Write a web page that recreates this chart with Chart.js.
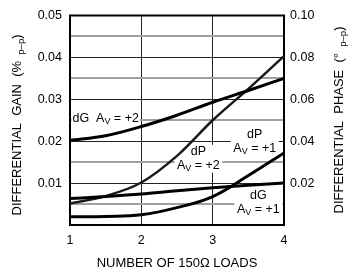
<!DOCTYPE html>
<html>
<head>
<meta charset="utf-8">
<script src="https://cdn.jsdelivr.net/npm/chart.js@4/dist/chart.umd.min.js"></script>
<style>
  html, body { margin: 0; padding: 0; background: #fff; }
  canvas { display: block; }
</style>
</head>
<body>
<canvas id="grafico" width="350" height="276"></canvas>
<script>
// dados
const loads = [1, 1.5, 2, 2.5, 3, 3.5, 4];
const dgAv2 = [0.0202, 0.0213, 0.0235, 0.0262, 0.0293, 0.0321, 0.0350]; // eixo esquerdo (%)
const dgAv1 = [0.0063, 0.0068, 0.0074, 0.0082, 0.0089, 0.0095, 0.0100]; // eixo esquerdo (%)
const dpAv2 = [0.0102, 0.0138, 0.0203, 0.0330, 0.0500, 0.0650, 0.0806]; // eixo direito (graus)
const dpAv1 = [0.0039, 0.0041, 0.0049, 0.0083, 0.0136, 0.0236, 0.0344]; // eixo direito (graus)

const xTicks = [1, 2, 3, 4];
const gainTicks = ['0.01', '0.02', '0.03', '0.04', '0.05'];
const phaseTicks = ['0.02', '0.04', '0.06', '0.08', '0.10'];

const FONTE = '"Liberation Sans", Arial, sans-serif';

function pontos(valores) {
  return loads.map((x, i) => ({ x: x, y: valores[i] }));
}

function serie(valores, eixo, largura, cor, modo) {
  return {
    data: pontos(valores),
    yAxisID: eixo,
    borderColor: cor,
    borderWidth: largura,
    pointRadius: 0,
    fill: false,
    tension: 0.4,
    cubicInterpolationMode: modo || 'monotone',
  };
}

// desenha texto em pedacos (para subscritos)
function textoPartes(ctx, partes, cx, cy) {
  let total = 0;
  partes.forEach((p) => {
    ctx.font = p.size + 'px ' + FONTE;
    p.w = ctx.measureText(p.t).width;
    total += p.w;
  });
  let x = cx - total / 2;
  ctx.textAlign = 'left';
  ctx.textBaseline = 'middle';
  partes.forEach((p) => {
    ctx.font = p.size + 'px ' + FONTE;
    ctx.fillText(p.t, x, cy + (p.dy || 0));
    x += p.w;
  });
  return total;
}

function av(sinal) {
  return [
    { t: 'A', size: 12.5 },
    { t: 'V', size: 9, dy: 3 },
    { t: ' = +' + sinal, size: 12.5 },
  ];
}

// rotulos das curvas, posicionados em unidades do eixo esquerdo
const rotulos = [
  { linhas: [[{ t: 'dG  ', size: 12.5 }].concat(av(2))], x: 1.5, y: 0.0254, w: 68 },
  { linhas: [[{ t: 'dP', size: 12.5 }], av(2)], x: 2.8, y: 0.0158, w: 48 },
  { linhas: [[{ t: 'dP', size: 12.5 }], av(1)], x: 3.59, y: 0.0199, w: 48 },
  { linhas: [[{ t: 'dG', size: 12.5 }], av(1)], x: 3.64, y: 0.0053, w: 48 },
];

const extras = {
  id: 'extras',
  beforeDatasetsDraw(chart) {
    const { ctx, chartArea: a, scales } = chart;
    ctx.save();
    // fundos brancos dos rotulos
    ctx.fillStyle = '#fff';
    rotulos.forEach((r) => {
      const cx = scales.x.getPixelForValue(r.x);
      const cy = scales.y.getPixelForValue(r.y);
      const h = r.linhas.length * 13 + 2;
      ctx.fillRect(cx - r.w / 2, cy - h / 2, r.w, h);
    });
    // moldura
    ctx.strokeStyle = '#000';
    ctx.lineWidth = 2;
    ctx.strokeRect(a.left, a.top, a.right - a.left, a.bottom - a.top);
    ctx.restore();
  },
  afterDatasetsDraw(chart) {
    const { ctx, scales } = chart;
    ctx.save();
    ctx.fillStyle = '#000';
    rotulos.forEach((r) => {
      const cx = scales.x.getPixelForValue(r.x);
      const cy = scales.y.getPixelForValue(r.y);
      const n = r.linhas.length;
      r.linhas.forEach((l, i) => {
        textoPartes(ctx, l, cx, cy + (i - (n - 1) / 2) * 14);
      });
    });

    // titulo do eixo x
    ctx.font = '13px ' + FONTE;
    ctx.textAlign = 'center';
    ctx.textBaseline = 'middle';
    ctx.fillText('NUMBER OF 150Ω LOADS', 177, 263);

    // titulo esquerdo
    ctx.save();
    ctx.translate(17, 125);
    ctx.rotate(-Math.PI / 2);
    textoPartes(ctx, [
      { t: 'DIFFERENTIAL  GAIN  (% ', size: 13 },
      { t: ' p–p', size: 9.5, dy: 4 },
      { t: ')', size: 13 },
    ], 0, 0);
    ctx.restore();

    // titulo direito
    ctx.save();
    ctx.translate(339, 120);
    ctx.rotate(-Math.PI / 2);
    textoPartes(ctx, [
      { t: 'DIFFERENTIAL  PHASE  (° ', size: 13 },
      { t: ' p–p', size: 9.5, dy: 4 },
      { t: ')', size: 13 },
    ], 0, 0);
    ctx.restore();
    ctx.restore();
  },
};

new Chart(document.getElementById('grafico'), {
  type: 'line',
  data: {
    datasets: [
      serie(dgAv2, 'y', 3, '#000'),
      serie(dgAv1, 'y', 3, '#000'),
      serie(dpAv2, 'y1', 2.5, '#1a1a1a'),
      serie(dpAv1, 'y1', 3, '#000', 'default'),
    ],
  },
  options: {
    responsive: false,
    animation: false,
    devicePixelRatio: 1,
    layout: { padding: { top: 12, right: 0, left: 0, bottom: 0 } },
    plugins: { legend: { display: false }, tooltip: { enabled: false } },
    scales: {
      x: {
        type: 'linear',
        min: 1,
        max: 4,
        afterBuildTicks: (s) => { s.ticks = xTicks.map((v) => ({ value: v })); },
        ticks: { padding: 8, color: '#000', font: { family: FONTE, size: 12.5 } },
        grid: {
          drawTicks: false,
          color: (c) => (c.tick && (c.tick.value === 2 || c.tick.value === 3) ? '#222' : 'rgba(0,0,0,0)'),
          lineWidth: 1,
        },
        border: { display: false },
        afterFit: (s) => { s.height = 51; },
      },
      y: {
        position: 'left',
        min: 0,
        max: 0.05,
        ticks: {
          stepSize: 0.005,
          autoSkip: false,
          padding: 8,
          color: '#000',
          font: { family: FONTE, size: 12.5 },
          callback: (v, i) => (i > 0 && i % 2 === 0 ? gainTicks[i / 2 - 1] : ''),
        },
        grid: {
          drawTicks: false,
          color: (c) => (c.index % 2 === 0 ? '#222' : '#a0a0a0'),
          lineWidth: (c) => (c.index % 2 === 0 ? 1 : 2),
        },
        border: { display: false },
        afterFit: (s) => { s.width = 70; },
      },
      y1: {
        position: 'right',
        min: 0,
        max: 0.1,
        ticks: {
          stepSize: 0.02,
          autoSkip: false,
          padding: 6,
          color: '#000',
          font: { family: FONTE, size: 12.5 },
          callback: (v, i) => (i > 0 ? phaseTicks[i - 1] : ''),
        },
        grid: { display: false, drawTicks: false },
        border: { display: false },
        afterFit: (s) => { s.width = 66; },
      },
    },
  },
  plugins: [extras],
});
</script>
</body>
</html>
